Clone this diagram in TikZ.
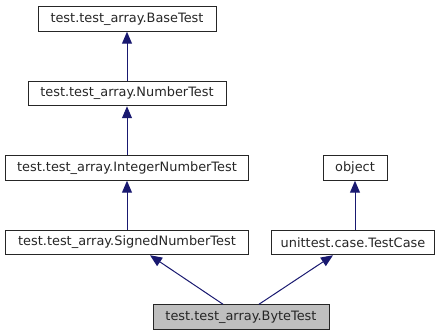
\documentclass[tikz,border=0pt]{standalone}
\usepackage{fontspec}
\setmainfont{DejaVu Sans}
\usetikzlibrary{arrows.meta}
\definecolor{edgeblue}{HTML}{191970}
\definecolor{curgray}{HTML}{BFBFBF}
\tikzset{
  cls/.style={draw=black!85,rectangle,minimum height=24.5pt,inner sep=0pt,line width=1pt,
    font=\fontsize{12.9}{15}\selectfont,text=black!85},
  current/.style={cls,fill=curgray},
  inh/.style={draw=edgeblue,line width=1pt,-{Triangle[length=12pt,width=10pt,fill=edgeblue]}}
}

\begin{document}
\begin{tikzpicture}[x=1pt,y=-1pt]
  \useasboundingbox (0,0) rectangle (445,336);

  \node[cls,minimum width=178pt] (base) at (127,19) {test.test\_array.BaseTest};
  \node[cls,minimum width=198pt] (number) at (127,93.5) {test.test\_array.NumberTest};
  \node[cls,minimum width=243pt] (integer) at (127,168) {test.test\_array.IntegerNumberTest};
  \node[cls,minimum width=64pt] (object) at (355,168) {object};
  \node[cls,minimum width=163pt] (tcase) at (353,242.5) {unittest.case.TestCase};
  \node[cls,minimum width=243pt] (signed) at (127,242.5) {test.test\_array.SignedNumberTest};
  \node[current,minimum width=176pt] (byte) at (241,317) {test.test\_array.ByteTest};

  \draw[inh] (number) -- (base);
  \draw[inh] (integer) -- (number);
  \draw[inh] (signed) -- (integer);
  \draw[inh] (tcase.north -| object) -- (object);
  \draw[inh] ([xshift=-18pt]byte.north) -- ([xshift=23pt]signed.south);
  \draw[inh] ([xshift=18pt]byte.north) -- ([xshift=-20pt]tcase.south);
\end{tikzpicture}
\end{document}
